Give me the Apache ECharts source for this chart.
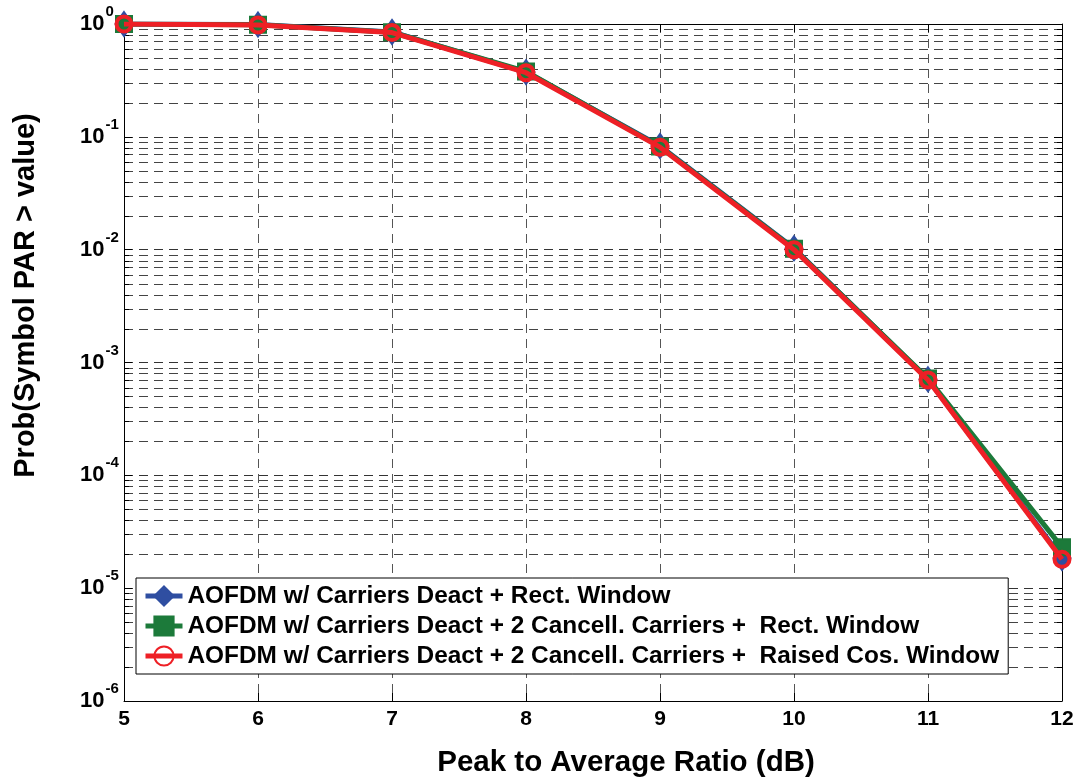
<!DOCTYPE html>
<html>
<head>
<meta charset="utf-8">
<script src="https://cdn.jsdelivr.net/npm/echarts@6/dist/echarts.min.js"></script>
<style>
  html, body { margin: 0; padding: 0; background: #fff; }
  #chart { width: 1078px; height: 781px; }
</style>
</head>
<body>
<div id="chart"></div>
<script>
// Peak-to-average ratio thresholds (dB)
const parDb = [5, 6, 7, 8, 9, 10, 11, 12];

// CCDF of symbol PAR for each scheme
const rectWindow       = [1.0, 0.99, 0.85, 0.375, 0.083, 0.0103, 7.1e-4, 1.85e-5];
const cancellRect      = [1.0, 0.985, 0.845, 0.38, 0.082, 0.0102, 7.2e-4, 2.3e-5];
const cancellRaisedCos = [1.0, 0.98, 0.84, 0.37, 0.081, 0.0100, 7.0e-4, 1.8e-5];

const seriesNames = [
  'AOFDM w/ Carriers Deact + Rect. Window',
  'AOFDM w/ Carriers Deact + 2 Cancell. Carriers +  Rect. Window',
  'AOFDM w/ Carriers Deact + 2 Cancell. Carriers +  Raised Cos. Window'
];

// y-axis decades (exponents of 10) and minor grid multipliers
const yDecades = [-6, -5, -4, -3, -2, -1, 0];
const minorSteps = [2, 3, 4, 5, 6, 7, 8, 9];

const FONT = "'Liberation Sans', Arial, Helvetica, sans-serif";
const GRID_DASH = [9, 6];
const X_MIN = parDb[0];
const X_MAX = parDb[parDb.length - 1];

function pairs(ys) { return parDb.map((x, i) => [x, ys[i]]); }

// minor log grid positions: m x 10^k
const minorGrid = [];
for (let d = 0; d < yDecades.length - 1; d++) {
  for (const m of minorSteps) {
    minorGrid.push([X_MIN, m * Math.pow(10, yDecades[d])]);
  }
}

const chart = echarts.init(document.getElementById('chart'), null, { renderer: 'canvas' });

chart.setOption({
  animation: false,
  backgroundColor: '#fff',
  textStyle: { fontFamily: FONT },
  grid: { left: 124, right: 16, top: 24, bottom: 80, containLabel: false, outerBoundsMode: 'none' },
  legend: {
    data: seriesNames,
    orient: 'vertical',
    left: 136,
    top: 578,
    backgroundColor: '#fff',
    borderColor: '#000',
    borderWidth: 1,
    borderRadius: 0,
    padding: [6, 9, 6, 7],
    itemWidth: 37,
    itemHeight: 24,
    itemGap: 6,
    selectedMode: false,
    lineStyle: { width: 5 },
    textStyle: { fontFamily: FONT, fontSize: 24.4, fontWeight: 'bold', color: '#000' },
    z: 10
  },
  xAxis: [{
    type: 'value',
    min: X_MIN, max: X_MAX, interval: 1,
    name: 'Peak to Average Ratio (dB)',
    nameLocation: 'middle',
    nameGap: 47,
    nameTextStyle: { fontFamily: FONT, fontSize: 29.5, fontWeight: 'bold', color: '#000', padding: [0, 0, 0, 66] },
    axisLine: { show: true, lineStyle: { color: '#000', width: 1 } },
    axisTick: { show: true, inside: true, length: 8, lineStyle: { color: '#000' } },
    axisLabel: { fontFamily: FONT, fontSize: 21, fontWeight: 'bold', color: '#000', margin: 8 },
    splitLine: { show: true, lineStyle: { type: GRID_DASH, color: '#555', width: 1 } }
  }, {
    type: 'value',
    position: 'top',
    min: X_MIN, max: X_MAX, interval: 1,
    axisLine: { show: true, lineStyle: { color: '#000', width: 1 } },
    axisTick: { show: true, inside: true, length: 8, lineStyle: { color: '#000' } },
    axisLabel: { show: false },
    splitLine: { show: false }
  }],
  yAxis: [{
    type: 'log',
    logBase: 10,
    min: 1e-6, max: 1,
    name: 'Prob(Symbol PAR > value)',
    nameLocation: 'middle',
    nameGap: 84,
    nameTextStyle: { fontFamily: FONT, fontSize: 29, fontWeight: 'bold', color: '#000', padding: [0, 0, 0, 134] },
    axisLine: { show: true, lineStyle: { color: '#000', width: 1 } },
    axisTick: { show: true, inside: true, length: 8, lineStyle: { color: '#000' } },
    axisLabel: {
      margin: 44,
      align: 'left',
      formatter: v => '{b|10}{s|' + Math.round(Math.log10(v)) + '}',
      rich: {
        b: { fontFamily: FONT, fontSize: 22, fontWeight: 'bold', color: '#000' },
        s: { fontFamily: FONT, fontSize: 15, fontWeight: 'bold', color: '#000', padding: [0, 0, 24, 1] }
      }
    },
    splitLine: { show: true, lineStyle: { type: GRID_DASH, color: '#333', width: 1 } }
  }, {
    type: 'log',
    logBase: 10,
    position: 'right',
    min: 1e-6, max: 1,
    axisLine: { show: true, lineStyle: { color: '#000', width: 1 } },
    axisTick: { show: true, inside: true, length: 8, lineStyle: { color: '#000' } },
    axisLabel: { show: false },
    splitLine: { show: false }
  }],
  series: [
    {
      // minor log grid lines with short inner ticks on both sides
      type: 'custom',
      name: 'minor-grid',
      data: minorGrid,
      encode: { x: 0, y: 1 },
      silent: true,
      z: 1,
      renderItem: function (params, api) {
        const a = api.coord([X_MIN, api.value(1)]);
        const b = api.coord([X_MAX, api.value(1)]);
        const y = Math.round(a[1]) + 0.5;
        return {
          type: 'group',
          children: [
            {
              type: 'line',
              shape: { x1: a[0], y1: y, x2: b[0], y2: y },
              style: { stroke: '#444', lineWidth: 1, lineDash: GRID_DASH }
            },
            {
              type: 'line',
              shape: { x1: a[0], y1: y, x2: a[0] + 5, y2: y },
              style: { stroke: '#000', lineWidth: 1 }
            },
            {
              type: 'line',
              shape: { x1: b[0] - 5, y1: y, x2: b[0], y2: y },
              style: { stroke: '#000', lineWidth: 1 }
            }
          ]
        };
      }
    },
    {
      name: seriesNames[0],
      type: 'line',
      data: pairs(rectWindow),
      symbol: 'diamond',
      symbolSize: [17, 24],
      lineStyle: { color: '#2f4ea1', width: 5 },
      itemStyle: { color: '#2f4ea1', borderColor: '#2f4ea1', borderWidth: 2 },
      emphasis: { disabled: true },
      z: 3
    },
    {
      name: seriesNames[1],
      type: 'line',
      data: pairs(cancellRect),
      symbol: 'rect',
      symbolSize: 16,
      lineStyle: { color: '#1c7a3a', width: 5 },
      itemStyle: { color: '#1c7a3a', borderColor: '#1c7a3a', borderWidth: 2 },
      emphasis: { disabled: true },
      z: 4
    },
    {
      name: seriesNames[2],
      type: 'line',
      data: pairs(cancellRaisedCos),
      symbol: 'circle',
      symbolSize: 15,
      lineStyle: { color: '#ee2026', width: 5 },
      itemStyle: { color: 'rgba(255,255,255,0)', borderColor: '#ee2026', borderWidth: 4 },
      emphasis: { disabled: true },
      z: 5
    }
  ]
});
</script>
</body>
</html>
